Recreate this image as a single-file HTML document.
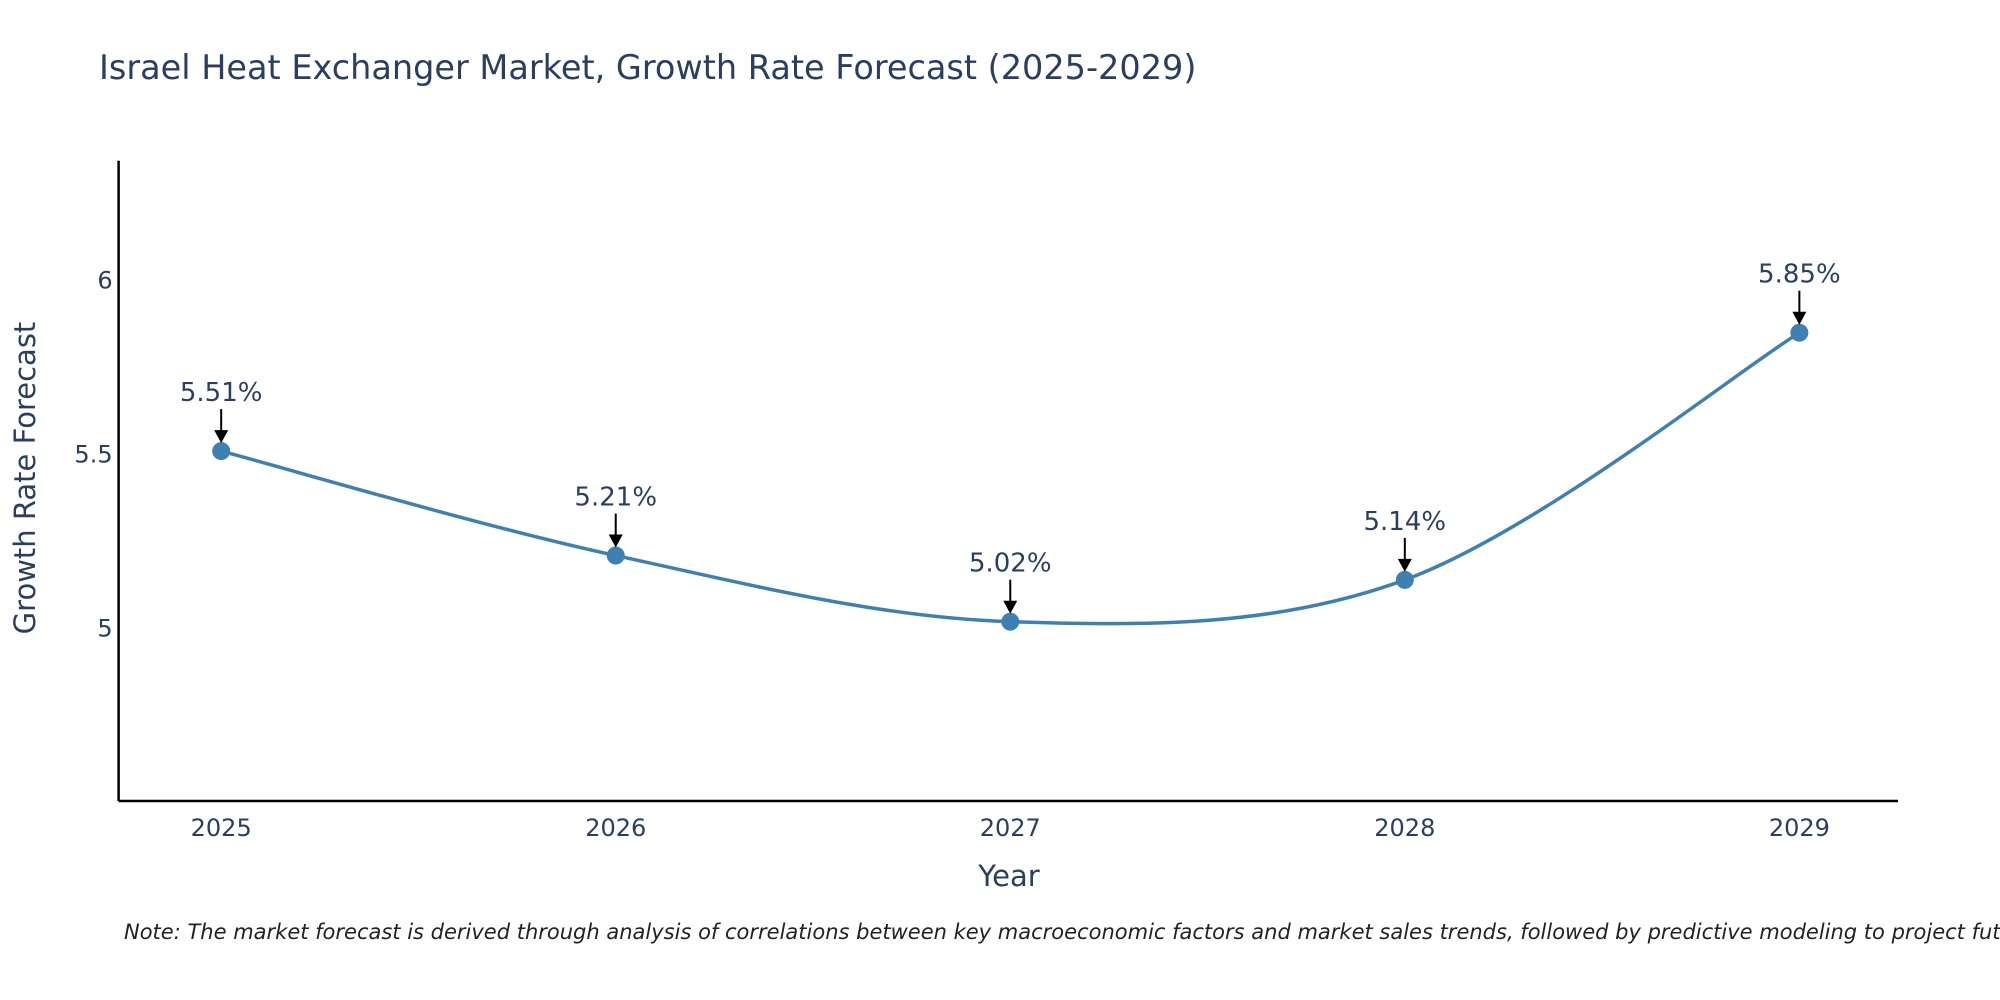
<!DOCTYPE html>
<html><head><meta charset="utf-8">
<style>
html,body{margin:0;padding:0;background:#fff;}
svg{display:block;font-family:"DejaVu Sans","Liberation Sans",sans-serif;}
</style></head>
<body>
<svg id="chart" width="2000" height="1000" viewBox="0 0 2000 1000">
<text x="99" y="79" font-size="33.5" fill="#2a3f5f">Israel Heat Exchanger Market, Growth Rate Forecast (2025-2029)</text>
<g id="axes"></g>
<g id="series"></g>
<g id="annots"></g>
<text x="1009" y="886" font-size="29" fill="#2a3f5f" text-anchor="middle">Year</text>
<text transform="translate(35,478) rotate(-90)" font-size="29" fill="#2a3f5f" text-anchor="middle">Growth Rate Forecast</text>
<text x="124" y="939" font-size="21" font-style="italic" fill="#222">Note: The market forecast is derived through analysis of correlations between key macroeconomic factors and market sales trends, followed by predictive modeling to project future sales.</text>
</svg>
<script>
const years = [2025, 2026, 2027, 2028, 2029];
const rates = [5.51, 5.21, 5.02, 5.14, 5.85];
const yTicks = [5, 5.5, 6];
const xTickLabels = ["2025", "2026", "2027", "2028", "2029"];

const NS = "http://www.w3.org/2000/svg";
const L = 118.6, R = 1898, T = 160.7, B = 801;
const xMin = 2024.74, xMax = 2029.25, yMin = 4.505, yMax = 6.344;
const xs = v => L + (v - xMin) / (xMax - xMin) * (R - L);
const ys = v => B - (v - yMin) / (yMax - yMin) * (B - T);
function mk(tag, attrs, parent) {
  const e = document.createElementNS(NS, tag);
  for (const k in attrs) e.setAttribute(k, attrs[k]);
  parent.appendChild(e);
  return e;
}
const axes = document.getElementById("axes");
const yl = mk("line", {x1: L, y1: T, x2: L, y2: B, stroke: "#000", "stroke-width": 2.5}, axes);


const xl = mk("line", {x1: L, y1: B, x2: R, y2: B, stroke: "#000", "stroke-width": 2.5}, axes);


yTicks.forEach(t => {
  const e = mk("text", {x: L - 6, y: ys(t) + 8, "font-size": 24, fill: "#2a3f5f", "text-anchor": "end"}, axes);
  e.textContent = String(t);
  
  
});
years.forEach((yr, i) => {
  const e = mk("text", {x: xs(yr), y: B + 33 + 2, "font-size": 24, fill: "#2a3f5f", "text-anchor": "middle"}, axes);
  e.textContent = xTickLabels[i];
  
  
});
const pts = years.map((yr, i) => [xs(yr), ys(rates[i])]);
let d = "M" + pts[0][0] + "," + pts[0][1];
const tension = 1 / 6;
for (let i = 0; i < pts.length - 1; i++) {
  const p0 = pts[Math.max(0, i - 1)], p1 = pts[i], p2 = pts[i + 1], p3 = pts[Math.min(pts.length - 1, i + 2)];
  const c1 = [p1[0] + (p2[0] - p0[0]) * tension, p1[1] + (p2[1] - p0[1]) * tension];
  const c2 = [p2[0] - (p3[0] - p1[0]) * tension, p2[1] - (p3[1] - p1[1]) * tension];
  d += " C" + c1[0] + "," + c1[1] + " " + c2[0] + "," + c2[1] + " " + p2[0] + "," + p2[1];
}
const series = document.getElementById("series");
const line = mk("path", {d: d, fill: "none", stroke: "#3f80b2", "stroke-width": 3.5}, series);


pts.forEach(p => {
  const c = mk("circle", {cx: p[0], cy: p[1], r: 9, fill: "#3f80b2"}, series);
  
  
});
const an = document.getElementById("annots");
pts.forEach((p, i) => {
  const l = mk("line", {x1: p[0], y1: p[1] - 42, x2: p[0], y2: p[1] - 20, stroke: "#000", "stroke-width": 2}, an);
  
  
  const h = mk("polygon", {points: (p[0]-7)+","+(p[1]-21)+" "+(p[0]+7)+","+(p[1]-21)+" "+p[0]+","+(p[1]-8), fill: "#000"}, an);
  
  
  const t = mk("text", {x: p[0], y: p[1] - 50, "font-size": 26, fill: "#2a3f5f", "text-anchor": "middle"}, an);
  t.textContent = rates[i].toFixed(2) + "%";
  
  
});
</script>
</body></html>
